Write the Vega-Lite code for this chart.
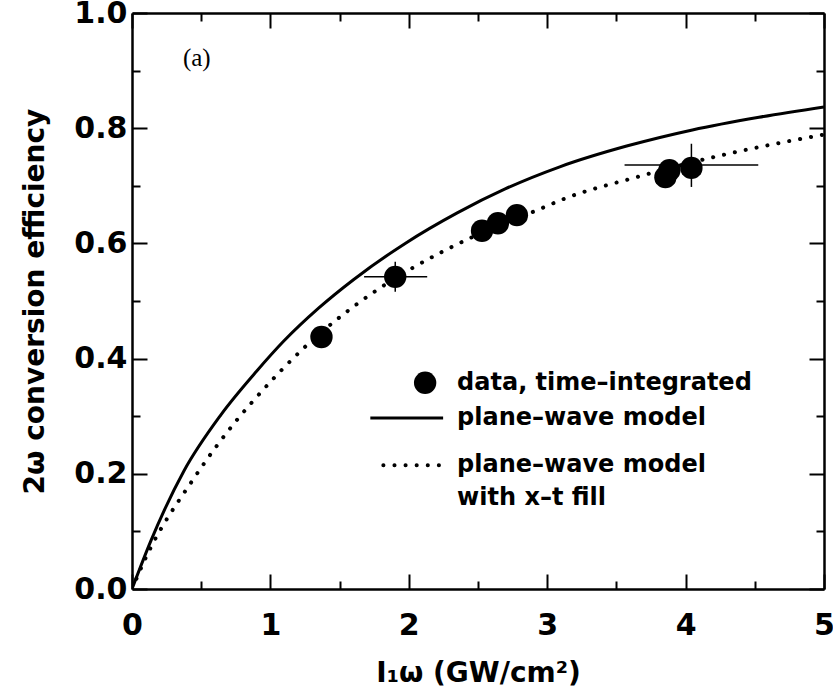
{
  "$schema": "https://vega.github.io/schema/vega-lite/v6.json",
  "width": 692,
  "height": 576,
  "autosize": "none",
  "padding": {"left": 132, "top": 13, "right": 9, "bottom": 107},
  "background": "white",
  "config": {"view": {"stroke": null}, "font": "DejaVu Sans"},
  "datasets": {
    "solid": [
      {"x": 0, "y": 0}, {"x": 0.137, "y": 0.084}, {"x": 0.375, "y": 0.205}, {"x": 0.641, "y": 0.302},
      {"x": 0.9, "y": 0.378}, {"x": 1.095, "y": 0.43}, {"x": 1.35, "y": 0.488}, {"x": 1.6, "y": 0.537},
      {"x": 1.974, "y": 0.6}, {"x": 2.35, "y": 0.653}, {"x": 2.7, "y": 0.695}, {"x": 3.091, "y": 0.733},
      {"x": 3.574, "y": 0.769}, {"x": 4.049, "y": 0.797}, {"x": 4.53, "y": 0.819}, {"x": 5.0, "y": 0.837}
    ],
    "dotted": [
      {"x": 0, "y": 0}, {"x": 0.087, "y": 0.048}, {"x": 0.447, "y": 0.192}, {"x": 0.77, "y": 0.297},
      {"x": 0.87, "y": 0.325}, {"x": 1.24, "y": 0.418}, {"x": 1.77, "y": 0.519}, {"x": 2.01, "y": 0.555},
      {"x": 2.45, "y": 0.61}, {"x": 2.9, "y": 0.655}, {"x": 3.14, "y": 0.679}, {"x": 3.645, "y": 0.715},
      {"x": 4.17, "y": 0.748}, {"x": 4.91, "y": 0.785}, {"x": 5.0, "y": 0.789}
    ],
    "points": [
      {"x": 1.369, "y": 0.4375}, {"x": 1.902, "y": 0.542}, {"x": 2.529, "y": 0.622}, {"x": 2.644, "y": 0.635},
      {"x": 2.781, "y": 0.649}, {"x": 3.854, "y": 0.715}, {"x": 3.883, "y": 0.727}, {"x": 4.042, "y": 0.731}
    ],
    "errors": [
      {"x": 1.902, "y": 0.542, "xlo": 1.677, "xhi": 2.133, "ylo": 0.516, "yhi": 0.568},
      {"x": 4.042, "y": 0.736, "xlo": 3.559, "xhi": 4.525, "ylo": 0.698, "yhi": 0.773}
    ],
    "legendSym": [{"x": 2.118, "y": 0.358}],
    "legendSolid": [{"x": 1.722, "x2": 2.248, "y": 0.297}],
    "legendDot": [{"x": 1.816, "x2": 2.248, "y": 0.215}],
    "legendText": [
      {"x": 2.349, "y": 0.358, "t": "data, time–integrated"},
      {"x": 2.349, "y": 0.297, "t": "plane–wave model"},
      {"x": 2.349, "y": 0.215, "t": "plane–wave model"},
      {"x": 2.349, "y": 0.158, "t": "with x–t fill"}
    ],
    "panel": [{"x": 0.468, "y": 0.922, "t": "(a)"}]
  },
  "layer": [
    {
      "data": {"name": "solid"},
      "mark": {"type": "line", "color": "black", "strokeWidth": 3, "interpolate": "monotone", "clip": true},
      "encoding": {
        "x": {
          "field": "x", "type": "quantitative",
          "scale": {"domain": [0, 5], "nice": false, "zero": false},
          "axis": {
            "orient": "bottom",
            "values": [0, 0.5, 1, 1.5, 2, 2.5, 3, 3.5, 4, 4.5, 5],
            "tickSize": {"condition": {"test": "round(datum.value*2) % 2 === 0", "value": -15}, "value": -8},
            "tickColor": "black", "tickWidth": 2,
            "labelExpr": "round(datum.value*2) % 2 === 0 ? format(datum.value, 'd') : ''",
            "labelFont": "DejaVu Sans", "labelFontSize": 30, "labelFontWeight": "bold", "labelColor": "black", "labelPadding": 36,
            "labelFlush": false, "labelOverlap": false,
            "domainColor": "black", "domainWidth": 2.5, "grid": false,
            "title": "I₁ω (GW/cm²)", "titleFont": "DejaVu Sans", "titleFontSize": 28,
            "titleFontWeight": "bold", "titleColor": "black", "titlePadding": 12
          }
        },
        "y": {
          "field": "y", "type": "quantitative",
          "scale": {"domain": [0, 1], "nice": false, "zero": false},
          "axis": {
            "orient": "left",
            "values": [0, 0.1, 0.2, 0.3, 0.4, 0.5, 0.6, 0.7, 0.8, 0.9, 1.0],
            "tickSize": {"condition": {"test": "round(datum.value*10) % 2 === 0", "value": -15}, "value": -8},
            "tickColor": "black", "tickWidth": 2,
            "labelExpr": "round(datum.value*10) % 2 === 0 ? format(datum.value, '.1f') : ''",
            "labelFont": "DejaVu Sans", "labelFontSize": 30, "labelFontWeight": "bold", "labelColor": "black", "labelPadding": 20,
            "labelFlush": false, "labelOverlap": false,
            "domainColor": "black", "domainWidth": 2.5, "grid": false,
            "title": "2ω conversion efficiency", "titleFont": "DejaVu Sans", "titleFontSize": 28,
            "titleFontWeight": "bold", "titleColor": "black", "titlePadding": 24
          }
        }
      }
    },
    {
      "data": {"name": "dotted"},
      "mark": {"type": "line", "color": "black", "strokeWidth": 4, "strokeCap": "round", "strokeDash": [0.1, 11], "interpolate": "monotone", "clip": true},
      "encoding": {
        "x": {
          "field": "x", "type": "quantitative",
          "axis": {
            "orient": "top",
            "values": [0, 0.5, 1, 1.5, 2, 2.5, 3, 3.5, 4, 4.5, 5],
            "tickSize": {"condition": {"test": "round(datum.value*2) % 2 === 0", "value": -15}, "value": -8},
            "tickColor": "black", "tickWidth": 2, "labels": false, "title": null,
            "domainColor": "black", "domainWidth": 2.5, "grid": false
          }
        },
        "y": {
          "field": "y", "type": "quantitative",
          "axis": {
            "orient": "right",
            "values": [0, 0.1, 0.2, 0.3, 0.4, 0.5, 0.6, 0.7, 0.8, 0.9, 1.0],
            "tickSize": {"condition": {"test": "round(datum.value*10) % 2 === 0", "value": -15}, "value": -8},
            "tickColor": "black", "tickWidth": 2, "labels": false, "title": null,
            "domainColor": "black", "domainWidth": 2.5, "grid": false
          }
        }
      }
    },
    {
      "data": {"name": "errors"},
      "mark": {"type": "rule", "color": "black", "strokeWidth": 1.5},
      "encoding": {
        "x": {"field": "xlo", "type": "quantitative", "axis": null},
        "x2": {"field": "xhi"},
        "y": {"field": "y", "type": "quantitative", "axis": null}
      }
    },
    {
      "data": {"name": "errors"},
      "mark": {"type": "rule", "color": "black", "strokeWidth": 1.5},
      "encoding": {
        "x": {"field": "x", "type": "quantitative", "axis": null},
        "y": {"field": "ylo", "type": "quantitative", "axis": null},
        "y2": {"field": "yhi"}
      }
    },
    {
      "data": {"name": "points"},
      "mark": {"type": "point", "shape": "circle", "filled": true, "color": "black", "opacity": 1, "size": 500},
      "encoding": {
        "x": {"field": "x", "type": "quantitative", "axis": null},
        "y": {"field": "y", "type": "quantitative", "axis": null}
      }
    },
    {
      "data": {"name": "legendSym"},
      "mark": {"type": "point", "shape": "circle", "filled": true, "color": "black", "opacity": 1, "size": 500},
      "encoding": {
        "x": {"field": "x", "type": "quantitative", "axis": null},
        "y": {"field": "y", "type": "quantitative", "axis": null}
      }
    },
    {
      "data": {"name": "legendSolid"},
      "mark": {"type": "rule", "color": "black", "strokeWidth": 3},
      "encoding": {
        "x": {"field": "x", "type": "quantitative", "axis": null},
        "x2": {"field": "x2"},
        "y": {"field": "y", "type": "quantitative", "axis": null}
      }
    },
    {
      "data": {"name": "legendDot"},
      "mark": {"type": "rule", "color": "black", "strokeWidth": 4, "strokeCap": "round", "strokeDash": [0.1, 11]},
      "encoding": {
        "x": {"field": "x", "type": "quantitative", "axis": null},
        "x2": {"field": "x2"},
        "y": {"field": "y", "type": "quantitative", "axis": null}
      }
    },
    {
      "data": {"name": "legendText"},
      "mark": {"type": "text", "align": "left", "baseline": "middle", "font": "DejaVu Sans", "fontSize": 24, "fontWeight": "bold", "color": "black"},
      "encoding": {
        "x": {"field": "x", "type": "quantitative", "axis": null},
        "y": {"field": "y", "type": "quantitative", "axis": null},
        "text": {"field": "t"}
      }
    },
    {
      "data": {"name": "panel"},
      "mark": {"type": "text", "align": "center", "baseline": "middle", "font": "Liberation Serif", "fontSize": 25, "color": "black"},
      "encoding": {
        "x": {"field": "x", "type": "quantitative", "axis": null},
        "y": {"field": "y", "type": "quantitative", "axis": null},
        "text": {"field": "t"}
      }
    }
  ],
  "resolve": {"axis": {"x": "independent", "y": "independent"}}
}
